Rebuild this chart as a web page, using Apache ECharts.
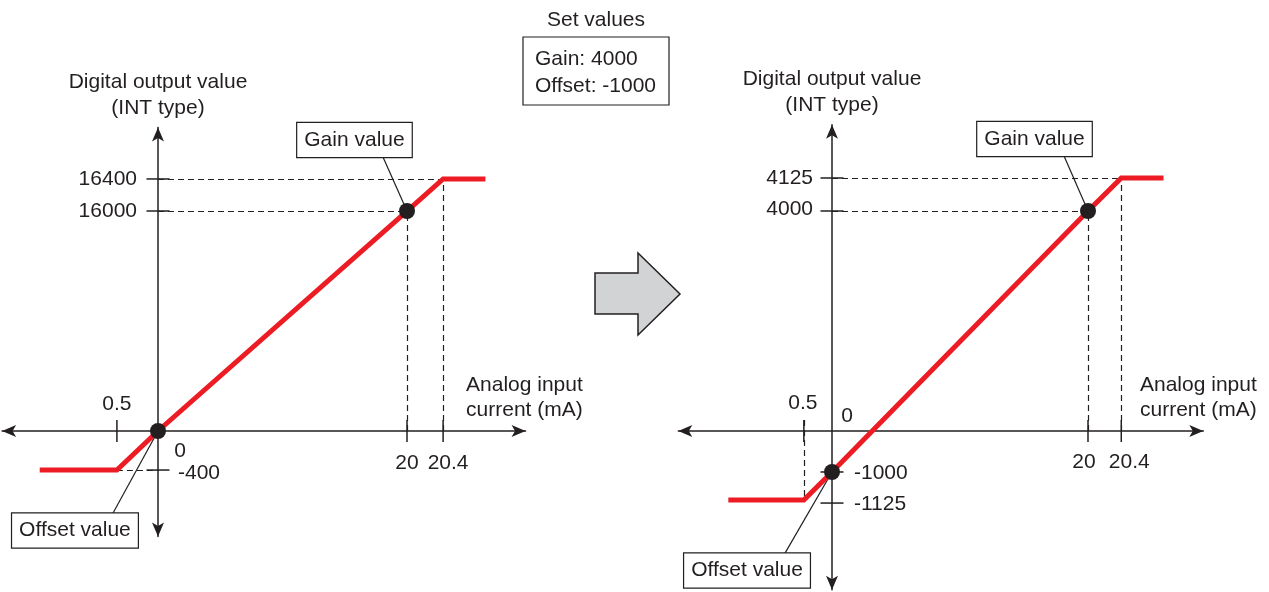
<!DOCTYPE html>
<html>
<head>
<meta charset="utf-8">
<title>Gain / offset setting</title>
<script src="https://cdn.jsdelivr.net/npm/echarts@6.0.0/dist/echarts.min.js"></script>
<style>
  html, body { margin: 0; padding: 0; background: #fff; }
  #box { width: 1269px; height: 592px; }
</style>
</head>
<body>
<div id="box"></div>
<script>
const INK = '#231f20';
const RED = '#ed1c24';
const FONT = '"Liberation Sans", Arial, Helvetica, sans-serif';

// set values in the middle box
const setGain = 4000;
const setOffset = -1000;

// left chart (default). The figure is a sketch, not to scale, so each labelled
// value has its own drawn spot on the axis (x ~ mA, y ~ thousands of counts)
const xTextL = ['0.5', '20', '20.4'];
const xAtL = [-3.3, 20, 22.9];
const yTextL = ['16400', '16000', '-400'];
const yAtL = [18.33, 16, -2.84];
const curveL = [[-9.5, -2.84], [-3.3, -2.84], [0, 0], [20, 16], [22.9, 18.33], [26.3, 18.33]];
const offsetPtL = [0, 0];
const gainPtL = [20, 16];

// right chart (after gain 4000 / offset -1000)
const xTextR = ['0.5', '20', '20.4'];
const xAtR = [-2.2, 20, 22.6];
const yTextR = ['4125', '4000', '-1000', '-1125'];
const yAtR = [4.6, 4, -0.745, -1.31];
const curveR = [[-8.1, -1.255], [-2.2, -1.255], [0, -0.745], [20, 4], [22.6, 4.6], [25.9, 4.6]];
const offsetPtR = [0, -0.745];
const gainPtR = [20, 4];

const txt = { fontSize: 21, fontFamily: FONT, color: INK, opacity: 1 };
const clear = { color: 'rgba(0,0,0,0)', opacity: 1 };

function axisLine() {
  return {
    show: true, onZero: true,
    symbol: ['arrow', 'arrow'], symbolSize: [9, 14],
    lineStyle: { color: INK, width: 1.5 }
  };
}

function xAxis(gi, min, max, gap) {
  return {
    type: 'value', gridIndex: gi, min: min, max: max,
    axisLine: axisLine(), axisTick: { show: false }, axisLabel: { show: false }, splitLine: { show: false },
    name: 'Analog input\ncurrent (mA)', nameLocation: 'end', nameGap: gap,
    nameTextStyle: Object.assign({ align: 'left', verticalAlign: 'bottom', lineHeight: 25, padding: [0, 0, 8, 0] }, txt)
  };
}

function yAxis(gi, min, max, gap) {
  return {
    type: 'value', gridIndex: gi, min: min, max: max,
    axisLine: axisLine(), axisTick: { show: false }, axisLabel: { show: false }, splitLine: { show: false },
    name: 'Digital output value\n(INT type)', nameLocation: 'end', nameGap: gap,
    nameTextStyle: Object.assign({ align: 'center', verticalAlign: 'bottom', lineHeight: 26 }, txt)
  };
}

function xTicks(gi, at, texts, offs) {
  return {
    type: 'scatter', xAxisIndex: gi, yAxisIndex: gi, symbol: 'rect', z: 4, clip: false, silent: true,
    itemStyle: { color: INK, opacity: 1 },
    label: Object.assign({ show: true, position: 'inside', formatter: '{b}' }, txt),
    data: at.map((x, i) => ({ name: texts[i], value: [x, 0], symbolSize: [1.5, 22], label: { offset: offs[i] } }))
  };
}

function yTicks(gi, at, texts, place) {
  return {
    type: 'scatter', xAxisIndex: gi, yAxisIndex: gi, symbol: 'rect', z: 4, clip: false, silent: true,
    itemStyle: { color: INK, opacity: 1 },
    label: Object.assign({ show: true, position: 'inside', formatter: '{b}' }, txt),
    data: at.map((y, i) => ({
      name: texts[i], value: [0, y], symbolSize: [23, 1.5],
      label: { align: place[i][0], offset: [place[i][1], place[i][2]] }
    }))
  };
}

function zeroLabel(gi, off) {
  return {
    type: 'scatter', xAxisIndex: gi, yAxisIndex: gi, symbolSize: 1, z: 4, clip: false, silent: true,
    itemStyle: clear,
    label: Object.assign({ show: true, position: 'inside', formatter: '0', offset: off }, txt),
    data: [[0, 0]]
  };
}

function segs(gi, list, dashed) {
  return {
    type: 'lines', coordinateSystem: 'cartesian2d', xAxisIndex: gi, yAxisIndex: gi,
    z: 2, silent: true, clip: false,
    lineStyle: { color: INK, width: 1.2, opacity: 1, curveness: 0, type: dashed ? [6, 4] : 'solid' },
    data: list.map(c => ({ coords: c }))
  };
}

function curve(gi, pts) {
  return {
    type: 'line', xAxisIndex: gi, yAxisIndex: gi, data: pts, symbol: 'none', z: 3, silent: true,
    lineStyle: { color: RED, width: 5, cap: 'butt', join: 'miter' }
  };
}

function dots(gi, pts) {
  return {
    type: 'scatter', xAxisIndex: gi, yAxisIndex: gi, data: pts, symbolSize: 16, z: 6, silent: true, clip: false,
    itemStyle: { color: INK, opacity: 1 }
  };
}

function boxes(gi, items) {
  return {
    type: 'scatter', xAxisIndex: gi, yAxisIndex: gi, symbolSize: 1, z: 7, silent: true, clip: false,
    itemStyle: clear,
    label: Object.assign({
      show: true, position: 'inside', formatter: '{b}', lineHeight: 22,
      backgroundColor: '#fff', borderColor: INK, borderWidth: 1.2, padding: [6, 7]
    }, txt),
    data: items
  };
}

const option = {
  animation: false,
  backgroundColor: '#fff',
  grid: [
    { left: 2.1, top: 127.5, width: 523.45, height: 409 },
    { left: 678.3, top: 124.75, width: 525, height: 465.1 }
  ],
  xAxis: [xAxis(0, -12.522, 29.522, -59.5), xAxis(1, -12.008, 29.008, -63.3)],
  yAxis: [yAxis(0, -7.673, 22.073, 6.5), yAxis(1, -2.888, 5.568, 6.75)],
  graphic: [
    { type: 'text', x: 596, y: 20, style: { text: 'Set values', fill: INK, align: 'center', verticalAlign: 'middle', fontSize: 21, fontFamily: FONT } },
    { type: 'rect', shape: { x: 523, y: 37, width: 146, height: 68 }, style: { fill: '#fff', stroke: INK, lineWidth: 1.2 } },
    { type: 'text', x: 535, y: 45.5, style: { text: 'Gain: ' + setGain + '\nOffset: ' + setOffset, fill: INK, align: 'left', verticalAlign: 'top', lineHeight: 27, fontSize: 21, fontFamily: FONT } },
    {
      type: 'polygon',
      shape: { points: [[595, 273], [638, 273], [638, 253], [680, 294], [638, 335], [638, 314], [595, 314]] },
      style: { fill: '#d1d3d4', stroke: INK, lineWidth: 1.5 }
    }
  ],
  series: [
    // left
    segs(0, [
      [[0, yAtL[0]], [xAtL[2], yAtL[0]]],
      [[0, yAtL[1]], [xAtL[1], yAtL[1]]],
      [[xAtL[1], 0], [xAtL[1], yAtL[1]]],
      [[xAtL[2], 0], [xAtL[2], yAtL[0]]],
      [[xAtL[0], yAtL[2]], [0, yAtL[2]]]
    ], true),
    curve(0, curveL),
    xTicks(0, xAtL, xTextL, [[0, -27], [0, 32], [5, 32]]),
    yTicks(0, yAtL, yTextL, [['right', -21, 0], ['right', -21, 0], ['left', 20, 3]]),
    zeroLabel(0, [22, 20]),
    segs(0, [[[18.07, 19.93], gainPtL], [[-3.61, -5.96], offsetPtL]], false),
    dots(0, [offsetPtL, gainPtL]),
    boxes(0, [{ name: 'Gain value', value: [15.78, 21.16] }, { name: 'Offset value', value: [-6.67, -7.24] }]),
    // right
    segs(1, [
      [[0, yAtR[0]], [xAtR[2], yAtR[0]]],
      [[0, yAtR[1]], [xAtR[1], yAtR[1]]],
      [[xAtR[1], 0], [xAtR[1], yAtR[1]]],
      [[xAtR[2], 0], [xAtR[2], yAtR[0]]],
      [[xAtR[0], 0.2], [xAtR[0], curveR[1][1]]]
    ], true),
    curve(1, curveR),
    xTicks(1, xAtR, xTextR, [[-1, -28], [-4, 31], [8, 31]]),
    yTicks(1, yAtR, yTextR, [['right', -19, 0], ['right', -19, -2], ['left', 22, 1], ['left', 22, 1]]),
    zeroLabel(1, [15, -15]),
    segs(1, [[[18.13, 5.0], gainPtR], [[-3.67, -2.22], offsetPtR]], false),
    dots(1, [offsetPtR, gainPtR]),
    boxes(1, [{ name: 'Gain value', value: [15.82, 5.31] }, { name: 'Offset value', value: [-6.64, -2.536] }])
  ]
};

var myChart = echarts.init(document.getElementById('box'));
myChart.setOption(option);
</script>
</body>
</html>
